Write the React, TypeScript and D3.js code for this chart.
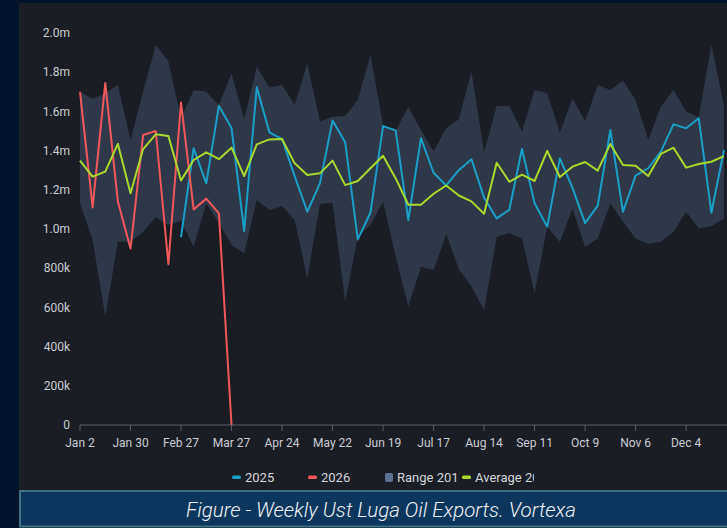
import React from 'react'
import * as d3 from 'd3'

// weekly values in million barrels/day-ish units (m = million)
const tickLabels = ['Jan 2', 'Jan 30', 'Feb 27', 'Mar 27', 'Apr 24', 'May 22', 'Jun 19', 'Jul 17', 'Aug 14', 'Sep 11', 'Oct 9', 'Nov 6', 'Dec 4']

const rangeUpper = [
  1.7, 1.663, 1.692, 1.735, 1.454, 1.7, 1.939, 1.854, 1.565, 1.709, 1.7, 1.633, 1.794, 1.56, 1.828, 1.722, 1.735, 1.633,
  1.845, 1.548, 1.573, 1.577, 1.658, 1.888, 1.53, 1.5, 1.624, 1.505, 1.395, 1.514, 1.56, 1.803, 1.39, 1.628, 1.628, 1.497,
  1.709, 1.692, 1.491, 1.667, 1.55, 1.735, 1.709, 1.757, 1.658, 1.454, 1.624, 1.709, 1.599, 1.57, 1.939, 1.633,
]

const rangeLower = [
  1.131, 0.944, 0.553, 0.935, 0.935, 0.986, 1.06, 1.02, 1.042, 0.91, 1.131, 1.03, 0.918, 0.876, 1.148, 1.097, 1.117, 1.046,
  0.748, 1.128, 1.134, 0.629, 0.96, 1.02, 1.14, 0.859, 0.604, 0.807, 0.791, 0.974, 0.795, 0.706, 0.587, 0.96, 0.98, 0.952,
  0.672, 1.012, 0.935, 1.105, 0.91, 0.952, 1.131, 1.037, 0.952, 0.923, 0.935, 0.986, 1.088, 1.003, 1.015, 1.054,
]

const average = [
  1.349, 1.267, 1.293, 1.434, 1.182, 1.408, 1.483, 1.474, 1.247, 1.352, 1.391, 1.356, 1.415, 1.27, 1.432, 1.457, 1.459, 1.335,
  1.276, 1.284, 1.349, 1.224, 1.245, 1.31, 1.374, 1.258, 1.124, 1.124, 1.18, 1.222, 1.171, 1.141, 1.078, 1.338, 1.241, 1.277,
  1.245, 1.398, 1.265, 1.318, 1.342, 1.298, 1.434, 1.327, 1.323, 1.27, 1.383, 1.415, 1.313, 1.332, 1.343, 1.372,
]

// 2025 starts at week 8 (Feb 27)
const firstWeek2025 = 8
const series2025 = [
  0.958, 1.412, 1.233, 1.628, 1.515, 0.99, 1.723, 1.493, 1.459, 1.27, 1.088, 1.233, 1.553, 1.442, 0.947, 1.083, 1.525, 1.503,
  1.046, 1.463, 1.287, 1.222, 1.3, 1.356, 1.16, 1.054, 1.098, 1.408, 1.131, 1.012, 1.36, 1.21, 1.03, 1.119, 1.505, 1.088,
  1.272, 1.31, 1.395, 1.534, 1.514, 1.565, 1.083, 1.403,
]

const series2026 = [1.7, 1.11, 1.745, 1.14, 0.9, 1.48, 1.5, 0.82, 1.645, 1.1, 1.155, 1.08, 0]

const yTicks = [0, 0.2, 0.4, 0.6, 0.8, 1.0, 1.2, 1.4, 1.6, 1.8, 2.0]

const W = 727
const H = 528
const FONT = 'Roboto, "Noto Sans", sans-serif'

const fmtY = (v: number) => (v === 0 ? '0' : v >= 1 ? `${v.toFixed(1)}m` : `${Math.round(v * 1000)}k`)

export default function App() {
  const x = d3.scaleLinear().domain([0, 51]).range([80, 724])
  const y = d3.scaleLinear().domain([0, 2]).range([425, 33])

  const band = d3
    .area<number>()
    .x((_, i) => x(i))
    .y0((_, i) => y(rangeLower[i]))
    .y1((d) => y(d))

  const line = (offset: number) =>
    d3
      .line<number>()
      .x((_, i) => x(i + offset))
      .y((d) => y(d))

  const legend = [
    { label: '2025', color: '#1a9fc8', x: 232, kind: 'line' },
    { label: '2026', color: '#f0585b', x: 308, kind: 'line' },
    { label: 'Range 201', color: '#5f7190', x: 385, kind: 'square' },
    { label: 'Average 20', color: '#a9d92f', x: 462, kind: 'line' },
  ]

  return (
    <svg width={W} height={H} style={{ position: 'absolute', left: 0, top: 0 }} fontFamily={FONT}>
      <defs>
        <clipPath id="legendClip">
          <rect x={0} y={0} width={534} height={H} />
        </clipPath>
      </defs>
      <rect width={W} height={H} fill="#02122a" />
      <rect x={19} y={3} width={W - 19} height={490} fill="#1b1d24" />

      <path d={band(rangeUpper) ?? ''} fill="#2e3849" />

      {/* x axis */}
      <line x1={80} x2={W} y1={y(0)} y2={y(0)} stroke="#595e68" strokeWidth={1} />
      {tickLabels.map((t, i) => (
        <g key={t} transform={`translate(${x(i * 4)},${y(0)})`}>
          <line y1={0} y2={6} stroke="#595e68" />
          <text y={22} textAnchor="middle" fontSize={12} fill="#c9ccd2">
            {t}
          </text>
        </g>
      ))}

      {yTicks.map((v) => (
        <text key={v} x={70} y={y(v)} dy="0.35em" textAnchor="end" fontSize={12} fill="#c9ccd2">
          {fmtY(v)}
        </text>
      ))}

      <path d={line(firstWeek2025)(series2025) ?? ''} fill="none" stroke="#1a9fc8" strokeWidth={2} strokeLinejoin="round" />
      <path d={line(0)(series2026) ?? ''} fill="none" stroke="#f0585b" strokeWidth={2} strokeLinejoin="round" />
      <path d={line(0)(average) ?? ''} fill="none" stroke="#a9d92f" strokeWidth={2} strokeLinejoin="round" />

      <g clipPath="url(#legendClip)">
        {legend.map((l) => (
          <g key={l.label} transform={`translate(${l.x},477)`}>
            {l.kind === 'square' ? (
              <rect x={0} y={-4} width={8} height={9} rx={2} fill={l.color} />
            ) : (
              <rect x={0} y={-1.5} width={9} height={3.5} rx={1.5} fill={l.color} />
            )}
            <text x={l.kind === 'square' ? 12 : 13} dy="0.36em" fontSize={13} fill="#d3d5da">
              {l.label}
            </text>
          </g>
        ))}
      </g>

      <rect x={20} y={491} width={W} height={35.5} fill="#0b365e" stroke="#3e7387" strokeWidth={2} />
      <text x={381} y={517} textAnchor="middle" fontSize={20.5} fontWeight={300} fontStyle="italic" fill="#eef1f5">
        Figure - Weekly Ust Luga Oil Exports. Vortexa
      </text>
    </svg>
  )
}
